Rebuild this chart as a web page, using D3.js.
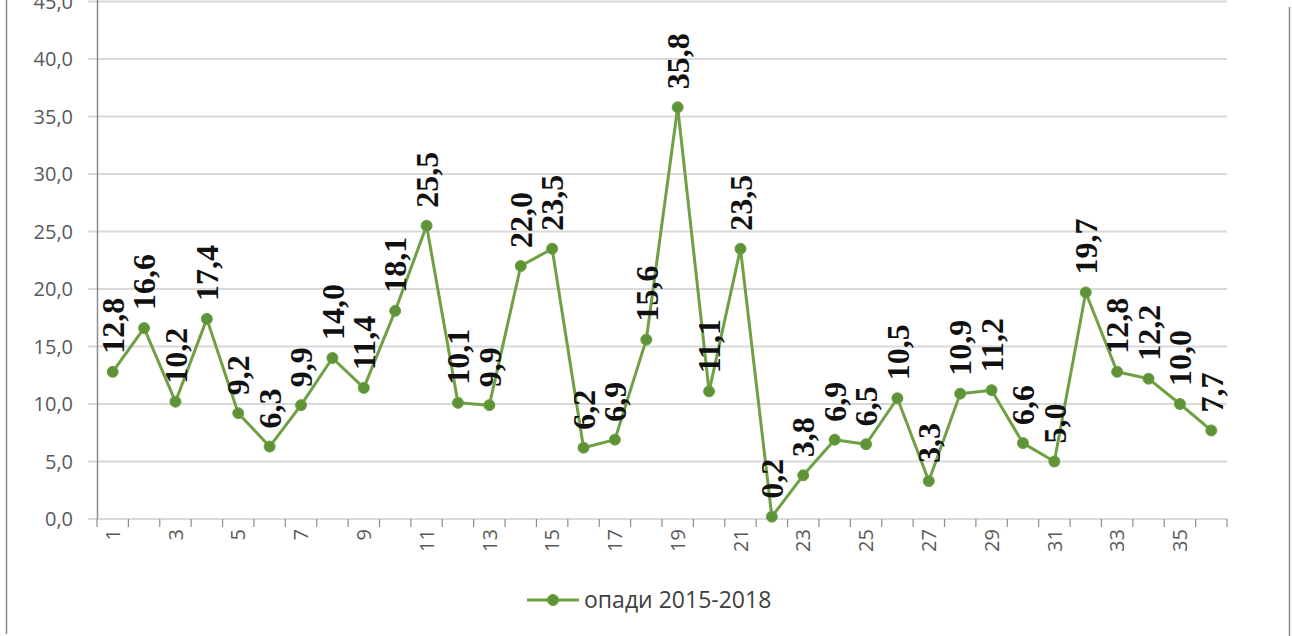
<!DOCTYPE html>
<html>
<head>
<meta charset="utf-8">
<script src="https://cdn.jsdelivr.net/npm/d3@7"></script>
<style>
  body { margin: 0; background: #fff; }
  svg { display: block; }
</style>
</head>
<body>
<div id="chart"></div>
<script>
// опади по точках, 2015-2018
const points = d3.range(1, 37);
const opadi = [12.8, 16.6, 10.2, 17.4, 9.2, 6.3, 9.9, 14.0, 11.4, 18.1, 25.5, 10.1,
  9.9, 22.0, 23.5, 6.2, 6.9, 15.6, 35.8, 11.1, 23.5, 0.2, 3.8, 6.9,
  6.5, 10.5, 3.3, 10.9, 11.2, 6.6, 5.0, 19.7, 12.8, 12.2, 10.0, 7.7];
const yTicks = [0, 5, 10, 15, 20, 25, 30, 35, 40, 45];
const seriesName = "опади 2015-2018";

const width = 1292, height = 636;
const green = "#6fa043", greenDark = "#5e9338";
const axisFont = "'Open Sans', 'Liberation Sans', sans-serif";
const fmt = v => d3.format(".1f")(v).replace(".", ",");

const svg = d3.select("#chart").append("svg")
  .attr("width", width)
  .attr("height", height);

// outer frame (cut at top)
svg.append("line").attr("x1", 6.5).attr("x2", 6.5).attr("y1", 0).attr("y2", 634)
  .attr("stroke", "#8c8c8c").attr("stroke-width", 1.5);
svg.append("line").attr("x1", 1289.5).attr("x2", 1289.5).attr("y1", 7).attr("y2", 636)
  .attr("stroke", "#8c8c8c").attr("stroke-width", 1.5);

let x = d3.scaleBand().domain(points).range([97, 1227]);
let y = d3.scaleLinear().domain([0, 45]).range([519, 1.5]);

// gridlines
svg.append("g").selectAll("line")
  .data(yTicks)
  .enter()
  .append("line")
  .attr("x1", 88)
  .attr("x2", 1227)
  .attr("y1", d => y(d))
  .attr("y2", d => y(d))
  .attr("stroke", "#d9d9d9")
  .attr("stroke-width", 2);

// y labels
svg.append("g").selectAll("text")
  .data(yTicks)
  .enter()
  .append("text")
  .attr("x", 73)
  .attr("y", d => y(d))
  .attr("dy", "0.36em")
  .attr("text-anchor", "end")
  .attr("font-family", axisFont)
  .attr("font-size", "20px")
  .attr("fill", "#595959")
  .text(d => fmt(d));

// vertical axis line
svg.append("line")
  .attr("x1", 97.5).attr("x2", 97.5)
  .attr("y1", 0).attr("y2", y(0))
  .attr("stroke", "#8c8c8c").attr("stroke-width", 1.5);

// x ticks at category boundaries
const bounds = points.map(d => x(d)).concat([x.range()[1]]);
svg.append("g").selectAll("line")
  .data(bounds)
  .enter()
  .append("line")
  .attr("x1", d => d)
  .attr("x2", d => d)
  .attr("y1", y(0))
  .attr("y2", y(0) + 8)
  .attr("stroke", "#8c8c8c")
  .attr("stroke-width", 1.2);

// x labels (every second)
svg.append("g").selectAll("text")
  .data(points.filter(d => d % 2 === 1))
  .enter()
  .append("text")
  .attr("transform", d => `translate(${x(d) + x.bandwidth() / 2},${y(0) + 10}) rotate(-90)`)
  .attr("dy", "0.36em")
  .attr("text-anchor", "end")
  .attr("font-family", axisFont)
  .attr("font-size", "20px")
  .attr("fill", "#595959")
  .text(d => d);

// line
const line = d3.line()
  .x((d, i) => x(points[i]) + x.bandwidth() / 2)
  .y(d => y(d));

svg.append("path")
  .datum(opadi)
  .attr("d", line)
  .attr("fill", "none")
  .attr("stroke", green)
  .attr("stroke-width", 3)
  .attr("stroke-linejoin", "round");

svg.append("g").selectAll("circle")
  .data(opadi)
  .enter()
  .append("circle")
  .attr("cx", (d, i) => x(points[i]) + x.bandwidth() / 2)
  .attr("cy", d => y(d))
  .attr("r", 5.5)
  .attr("fill", greenDark)
  .attr("stroke", green)
  .attr("stroke-width", 1);

// data labels
svg.append("g").selectAll("text")
  .data(opadi)
  .enter()
  .append("text")
  .attr("transform", (d, i) => `translate(${x(points[i]) + x.bandwidth() / 2},${y(d) - 18}) rotate(-90)`)
  .attr("dy", "0.35em")
  .attr("text-anchor", "start")
  .attr("font-family", "'Liberation Serif', 'Times New Roman', serif")
  .attr("font-weight", "bold")
  .attr("font-size", "32px")
  .attr("fill", "#111")
  .text(d => fmt(d));

// legend
const lg = svg.append("g").attr("transform", "translate(527,600)");
lg.append("line").attr("x1", 0).attr("x2", 52).attr("y1", 0).attr("y2", 0)
  .attr("stroke", green).attr("stroke-width", 3);
lg.append("circle").attr("cx", 26).attr("cy", 0).attr("r", 5.5)
  .attr("fill", greenDark).attr("stroke", green);
lg.append("text")
  .attr("x", 57)
  .attr("y", 0)
  .attr("dy", "0.36em")
  .attr("font-family", axisFont)
  .attr("font-size", "23px")
  .attr("fill", "#404040")
  .text(seriesName);
</script>
</body>
</html>
